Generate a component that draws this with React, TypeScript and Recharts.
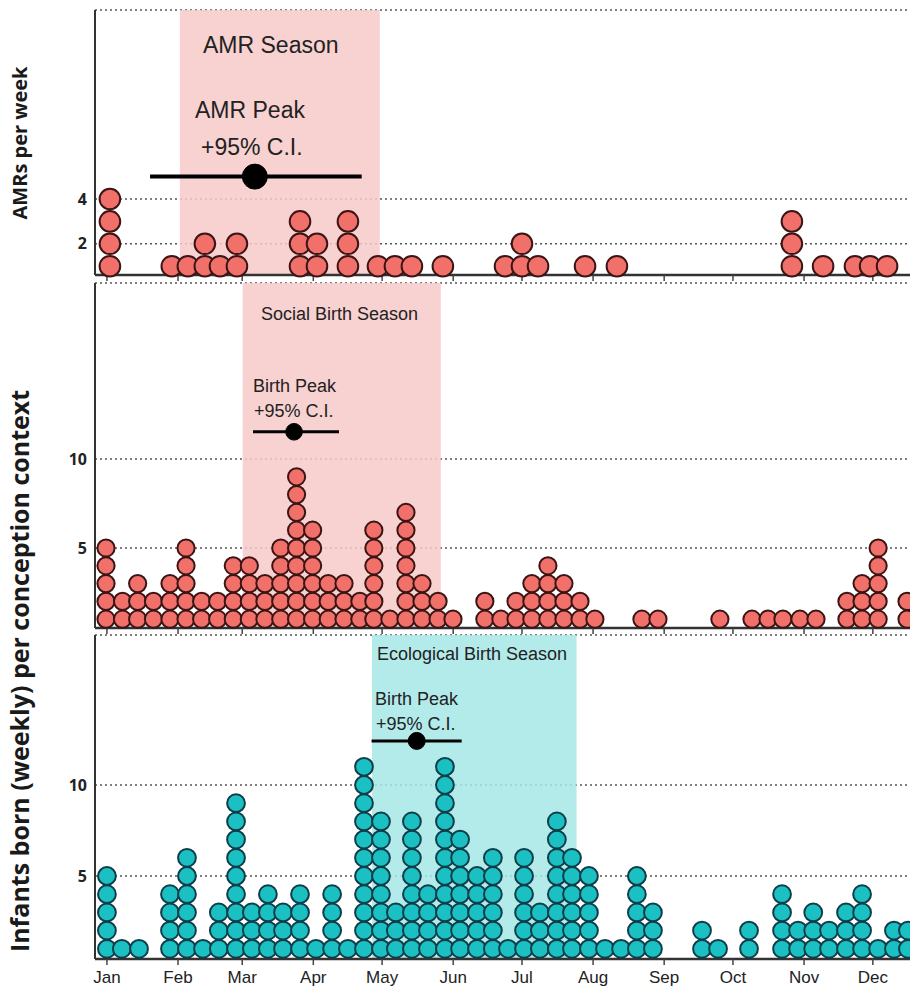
import React from 'react';
import { ScatterChart, Scatter, XAxis, YAxis, CartesianGrid, ReferenceArea, ReferenceLine, ReferenceDot } from 'recharts';

// x axis is day of year (Jan 1 = 0)
const monthStarts = [0, 31, 59, 90, 120, 151, 181, 212, 243, 273, 304, 334];
const monthNames = ['Jan', 'Feb', 'Mar', 'Apr', 'May', 'Jun', 'Jul', 'Aug', 'Sep', 'Oct', 'Nov', 'Dec'];

// AMRs per week: stack position (day) and stack height
const amrDays = [1.3, 28.3, 35.3, 42.7, 49.3, 56.7, 84.2, 91.6, 105.1, 118.2, 125.6, 133.0, 146.5, 173.6, 181.0, 188.0, 208.5, 222.4, 298.7, 312.3, 326.2, 332.8, 340.2];
const amrCounts = [4, 1, 1, 2, 1, 2, 3, 2, 3, 1, 1, 1, 1, 1, 2, 1, 1, 1, 3, 1, 1, 1, 1];

// infants born, social conception context
const socialDays = [-0.4, 6.8, 13.4, 20.3, 27.5, 34.5, 41.3, 48.3, 55.1, 62.1, 68.9, 75.8, 82.7, 89.7, 96.5, 103.4, 110.3, 116.4, 123.4, 130.4, 137.4, 144.4, 150.9, 164.8, 171.8, 178.4, 185.3, 192.3, 199.3, 206.3, 212.8, 233.3, 240.3, 267.3, 281.3, 288.3, 294.8, 302.2, 309.2, 322.7, 329.3, 336.3, 348.9];
const socialCounts = [5, 2, 3, 2, 3, 5, 2, 2, 4, 4, 3, 5, 9, 6, 3, 3, 2, 6, 1, 7, 3, 2, 1, 2, 1, 2, 3, 4, 3, 2, 1, 1, 1, 1, 1, 1, 1, 1, 1, 2, 3, 5, 2];

// infants born, ecological conception context
const ecoDays = [0.0, 6.5, 14.0, 27.5, 34.9, 41.9, 48.8, 56.3, 63.2, 70.2, 76.8, 84.2, 91.2, 98.2, 105.1, 112.1, 119.5, 126.0, 133.0, 140.0, 147.4, 154.0, 161.4, 168.3, 174.9, 181.9, 188.8, 196.2, 202.8, 210.2, 217.2, 224.2, 231.1, 238.1, 259.5, 266.5, 280.0, 294.4, 301.4, 308.0, 314.9, 322.3, 329.3, 336.3, 343.2, 349.3];
const ecoCounts = [5, 1, 1, 4, 6, 1, 3, 9, 3, 4, 3, 4, 1, 4, 1, 11, 8, 3, 8, 4, 11, 7, 5, 6, 1, 6, 3, 8, 6, 5, 1, 1, 5, 3, 2, 1, 2, 4, 2, 3, 2, 3, 4, 1, 2, 2];

const amrTicks = [2, 4];
const birthTicks = [5, 10];

// seasons [start, end] and peaks [low, peak, high] in days, with the height they are drawn at
const amrSeason = [31.8, 119.0];
const amrPeak = [18.8, 64.5, 111.1];
const amrPeakLevel = 5;
const socialSeason = [59.2, 145.6];
const socialPeak = [63.7, 81.6, 101.2];
const socialPeakLevel = 11.53;
const ecoSeason = [115.6, 204.8];
const ecoPeak = [115.4, 135.1, 154.7];
const ecoPeakLevel = 12.42;

const X_DOMAIN = [-5.2, 350.2];
const RED = '#f2706a';
const RED_EDGE = '#3b1515';
const TEAL = '#1bc0c2';
const TEAL_EDGE = '#0f3d4a';

const toStack = (days: number[], counts: number[]) => {
  const pts: { x: number; y: number }[] = [];
  days.forEach((d, i) => {
    for (let k = 1; k <= counts[i]; k++) pts.push({ x: d, y: k });
  });
  return pts;
};

const dotShape = (r: number, fill: string, stroke: string) => (props: any) => (
  <circle cx={props.cx} cy={props.cy} r={r} fill={fill} stroke={stroke} strokeWidth={2} />
);

interface PanelProps {
  top: number;
  height: number;
  marginTop: number;
  axisHeight: number;
  labels: boolean;
  points: { x: number; y: number }[];
  yDomain: number[];
  yTicks: number[];
  r: number;
  fill: string;
  stroke: string;
  season: number[];
  seasonColor: string;
  peak: number[];
  peakLevel: number;
  peakR: number;
  peakWidth: number;
}

const Panel: React.FC<PanelProps> = (p) => (
  <div style={{ position: 'absolute', left: 0, top: p.top }}>
    <ScatterChart width={910} height={p.height} margin={{ top: p.marginTop, right: 0, bottom: 0, left: 55 }}>
      <CartesianGrid vertical={false} stroke="#555" strokeDasharray="2 3" strokeWidth={1.5} />
      <XAxis
        type="number"
        dataKey="x"
        domain={X_DOMAIN}
        ticks={monthStarts}
        height={p.axisHeight}
        tickFormatter={(v: number) => (p.labels ? monthNames[monthStarts.indexOf(v)] : '')}
        tick={{ fill: '#222', fontSize: 17, fontFamily: 'Liberation Sans, Arial, sans-serif' }}
        tickMargin={6}
        tickLine={{ stroke: '#444', strokeWidth: 1.5 }}
        axisLine={{ stroke: '#333', strokeWidth: 2.5 }}
      />
      <YAxis
        type="number"
        dataKey="y"
        domain={p.yDomain}
        ticks={p.yTicks}
        width={40}
        tickLine={false}
        tick={{ fill: '#222', fontSize: 16, fontWeight: 700, fontFamily: 'Open Sans, sans-serif' }}
        axisLine={{ stroke: '#333', strokeWidth: 2 }}
      />
      <ReferenceArea x1={p.season[0]} x2={p.season[1]} fill={p.seasonColor} fillOpacity={0.85} stroke="none" />
      <Scatter data={p.points} shape={dotShape(p.r, p.fill, p.stroke)} isAnimationActive={false} />
      <ReferenceLine
        segment={[{ x: p.peak[0], y: p.peakLevel }, { x: p.peak[2], y: p.peakLevel }]}
        stroke="#000"
        strokeWidth={p.peakWidth}
      />
      <ReferenceDot x={p.peak[1]} y={p.peakLevel} r={p.peakR} fill="#000" stroke="#000" />
    </ScatterChart>
  </div>
);

const SANS = 'Liberation Sans, Arial, sans-serif';

export default function App() {
  return (
    <div style={{ position: 'absolute', left: 0, top: 0, width: 910, height: 990, background: '#fff', overflow: 'hidden' }}>
      <Panel
        top={0} height={281} marginTop={10} axisHeight={6} labels={false}
        points={toStack(amrDays, amrCounts)} yDomain={[0.607, 12.44]} yTicks={amrTicks}
        r={10.3} fill={RED} stroke={RED_EDGE}
        season={amrSeason} seasonColor="#f7c9c9"
        peak={amrPeak} peakLevel={amrPeakLevel} peakR={12.5} peakWidth={4}
      />
      <Panel
        top={281} height={353} marginTop={2} axisHeight={6} labels={false}
        points={toStack(socialDays, socialCounts)} yDomain={[0.506, 19.89]} yTicks={birthTicks}
        r={8.6} fill={RED} stroke={RED_EDGE}
        season={socialSeason} seasonColor="#f7c9c9"
        peak={socialPeak} peakLevel={socialPeakLevel} peakR={8.3} peakWidth={3}
      />
      <Panel
        top={634} height={356} marginTop={1} axisHeight={31} labels={true}
        points={toStack(ecoDays, ecoCounts)} yDomain={[0.44, 18.24]} yTicks={birthTicks}
        r={8.9} fill={TEAL} stroke={TEAL_EDGE}
        season={ecoSeason} seasonColor="#a6e8e8"
        peak={ecoPeak} peakLevel={ecoPeakLevel} peakR={8.5} peakWidth={3}
      />

      {/* annotations and axis titles */}
      <svg width={910} height={990} style={{ position: 'absolute', left: 0, top: 0, pointerEvents: 'none' }}>
        <g fill="#222" fontFamily={SANS}>
          <text x={203} y={53} fontSize={23}>AMR Season</text>
          <text x={195} y={118} fontSize={23}>AMR Peak</text>
          <text x={201} y={155} fontSize={23}>+95% C.I.</text>
          <text x={261} y={320} fontSize={18}>Social Birth Season</text>
          <text x={253} y={392} fontSize={18}>Birth Peak</text>
          <text x={254} y={417} fontSize={18}>+95% C.I.</text>
          <text x={377} y={660} fontSize={18}>Ecological Birth Season</text>
          <text x={375} y={705} fontSize={18}>Birth Peak</text>
          <text x={376} y={730} fontSize={18}>+95% C.I.</text>
        </g>
        <g fill="#1a1a1a" fontFamily="Open Sans, sans-serif" fontWeight={700} textAnchor="middle">
          <text transform="translate(27,143) rotate(-90)" fontSize={20}>AMRs per week</text>
          <text transform="translate(29,671) rotate(-90)" fontSize={25}>Infants born (weekly) per conception context</text>
        </g>
      </svg>
    </div>
  );
}
